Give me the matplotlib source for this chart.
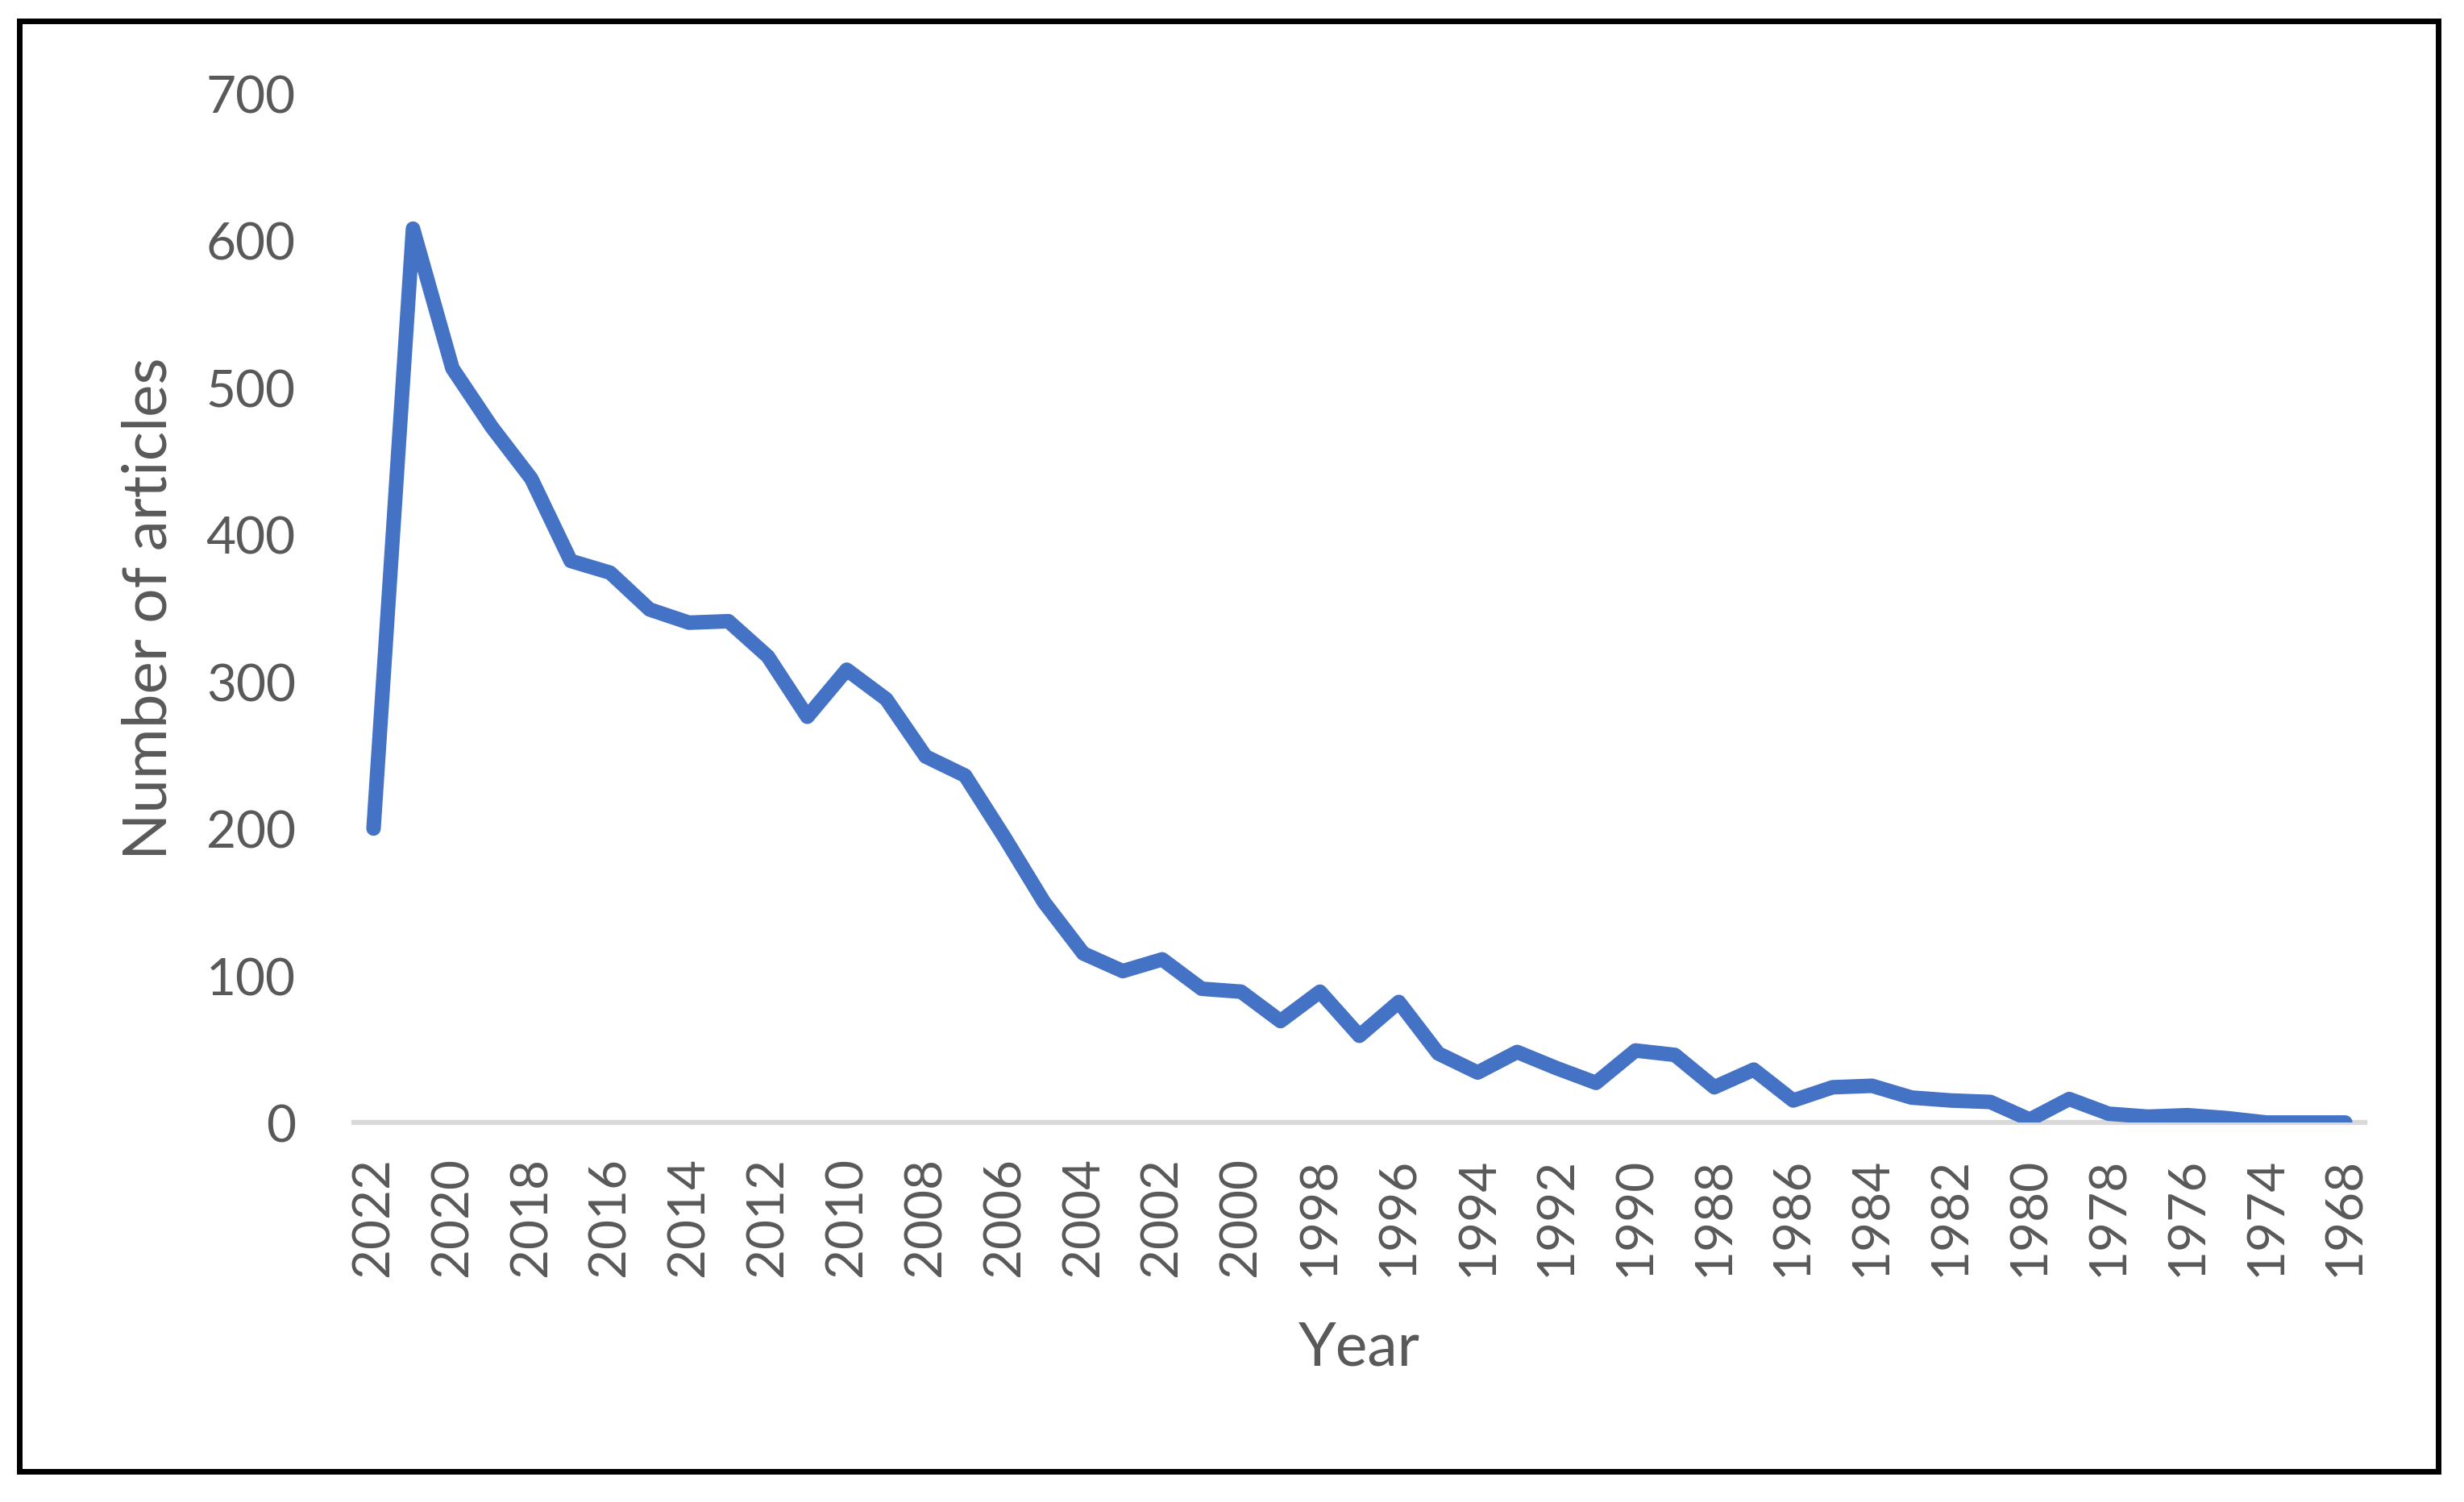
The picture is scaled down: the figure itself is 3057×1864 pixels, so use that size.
import matplotlib.pyplot as plt
from matplotlib.patches import Rectangle

# Articles per year
years = [2022, 2021, 2020, 2019, 2018, 2017, 2016, 2015, 2014, 2013,
         2012, 2011, 2010, 2009, 2008, 2007, 2006, 2005, 2004, 2003,
         2002, 2001, 2000, 1999, 1998, 1997, 1996, 1995, 1994, 1993,
         1992, 1991, 1990, 1989, 1988, 1987, 1986, 1985, 1984, 1983,
         1982, 1981, 1980, 1979, 1978, 1977, 1976, 1975, 1974, 1970,
         1968]
articles = [200, 608, 513, 473, 438, 382, 374, 349, 340, 341,
            317, 276, 308, 288, 249, 236, 194, 150, 115, 103,
            111, 91, 89, 69, 89, 59, 82, 47, 34, 48,
            37, 27, 49, 46, 24, 36, 15, 24, 25, 17,
            15, 14, 2, 16, 6, 4, 5, 3, 0, 0,
            0]
y_ticks = [0, 100, 200, 300, 400, 500, 600, 700]

text_color = '#595959'
plt.rcParams['font.family'] = ['Lato', 'DejaVu Sans']

fig = plt.figure(figsize=(30.57, 18.65), dpi=100)
ax = fig.add_axes([0.1436, 0.2525, 0.8162, 0.6848])

x = list(range(len(years)))
ax.plot(x, articles, color='#4472C4', linewidth=13, solid_joinstyle='round',
        solid_capstyle='round', zorder=3)

ax.set_xlim(-0.5, len(years) - 0.5)
ax.set_ylim(0, 700)
ax.set_yticks(y_ticks)
ax.set_yticklabels([str(v) for v in y_ticks])
ax.set_xticks(x[::2])
ax.set_xticklabels([str(y) for y in years[::2]], rotation=90)

ax.tick_params(axis='y', length=0, pad=52, labelsize=46, labelcolor=text_color)
ax.tick_params(axis='x', length=0, pad=30, labelsize=46, labelcolor=text_color)

for s in ['top', 'right', 'left']:
    ax.spines[s].set_visible(False)
ax.spines['bottom'].set_color('#D9D9D9')
ax.spines['bottom'].set_linewidth(4.5)

ax.set_xlabel('Year', fontsize=54, color=text_color, va='center')
ax.set_ylabel('Number of articles', fontsize=55, color=text_color, va='center')
ax.xaxis.set_label_coords(0.5, -0.2185)
ax.yaxis.set_label_coords(-0.1018, 0.5)

# outer border of the chart
W, H = 3057, 1865
fig.patches.append(Rectangle((24.5 / W, 1 - 1826.5 / H), 3000 / W, 1800 / H,
                             transform=fig.transFigure, fill=False,
                             edgecolor='black', linewidth=5))

fig.savefig('out.png', dpi=100)
